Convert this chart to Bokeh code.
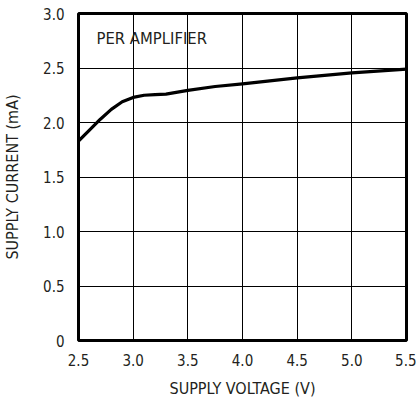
import math
from bokeh.plotting import figure
from bokeh.models import FixedTicker, Label, Range1d
from bokeh.embed import file_html
from bokeh.resources import INLINE

# Data
voltage = [2.5, 2.6, 2.7, 2.8, 2.9, 3.0, 3.1, 3.2, 3.3, 3.5, 3.75, 4.0, 4.5, 5.0, 5.5]
current = [1.83, 1.93, 2.03, 2.12, 2.19, 2.23, 2.25, 2.255, 2.26, 2.295, 2.33, 2.355, 2.41, 2.455, 2.49]

x_ticks = [2.5, 3.0, 3.5, 4.0, 4.5, 5.0, 5.5]
y_ticks = [0, 0.5, 1.0, 1.5, 2.0, 2.5, 3.0]
y_tick_labels = {0: "0", 0.5: "0.5", 1.0: "1.0", 1.5: "1.5", 2.0: "2.0", 2.5: "2.5", 3.0: "3.0"}
x_tick_labels = {2.5: "2.5", 3.0: "3.0", 3.5: "3.5", 4.0: "4.0", 4.5: "4.5", 5.0: "5.0", 5.5: "5.5"}

FONT = "DejaVu Sans Condensed"
TXT = "#231f20"

p = figure(width=416, height=400, output_backend="svg", toolbar_location=None,
           x_range=Range1d(2.5, 5.5), y_range=Range1d(0, 3.0),
           min_border_left=77, min_border_right=10, min_border_top=13, min_border_bottom=60)

p.outline_line_color = "black"
p.outline_line_width = 3
p.outline_line_alpha = 1.0

for ax in (p.xaxis, p.yaxis):
    ax.axis_line_color = None
    ax.major_tick_line_color = None
    ax.minor_tick_line_color = None
    ax.major_tick_out = 0
    ax.major_tick_in = 0
    ax.major_label_text_font = FONT
    ax.major_label_text_font_size = "15px"
    ax.major_label_text_color = TXT
    ax.axis_label_text_font = FONT
    ax.axis_label_text_font_size = "16px"
    ax.axis_label_text_font_style = "normal"
    ax.axis_label_text_color = TXT

p.xaxis.ticker = FixedTicker(ticks=x_ticks)
p.yaxis.ticker = FixedTicker(ticks=y_ticks)
p.xaxis.major_label_overrides = x_tick_labels
p.yaxis.major_label_overrides = y_tick_labels
p.xaxis.axis_label = "SUPPLY VOLTAGE (V)"
p.yaxis.axis_label = "SUPPLY CURRENT (mA)"
p.xaxis.major_label_standoff = 13
p.yaxis.major_label_standoff = 14
p.xaxis.axis_label_standoff = 10
p.yaxis.axis_label_standoff = 18

p.xgrid.ticker = FixedTicker(ticks=x_ticks)
p.ygrid.ticker = FixedTicker(ticks=y_ticks)
for g in (p.xgrid, p.ygrid):
    g.grid_line_color = "black"
    g.grid_line_width = 1
    g.grid_line_alpha = 1.0

p.line(voltage, current, line_color="black", line_width=3.2, line_join="round")

p.add_layout(Label(x=2.5, y=2.77, x_offset=18, text="PER AMPLIFIER",
                   text_font=FONT, text_font_size="16.5px", text_color=TXT,
                   text_baseline="middle", text_align="left"))

p.add_layout(Label(x=5.5, y=2.68, x_offset=5, text="MAX4475toc13",
                   text_font=FONT, text_font_size="9px", text_color="#555555",
                   text_baseline="middle", text_align="center", angle=math.pi / 2))

open("out.html", "w").write(file_html(p, INLINE))
